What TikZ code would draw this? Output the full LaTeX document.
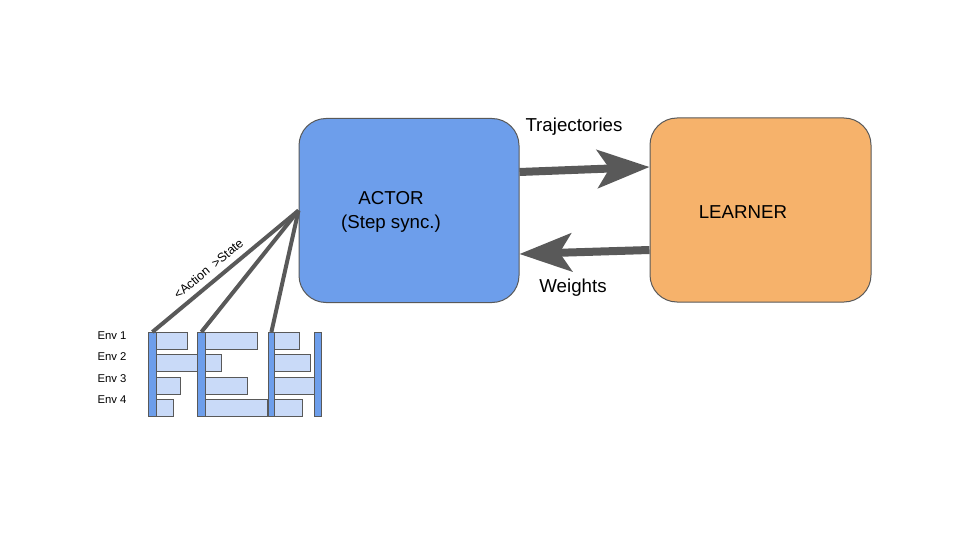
\documentclass[tikz,border=0pt]{standalone}
\usepackage{fontspec}
\setmainfont{Liberation Sans}
\usetikzlibrary{arrows.meta}
\definecolor{actorblue}{HTML}{6D9EEB}
\definecolor{learnerorange}{HTML}{F6B26B}
\definecolor{slotblue}{HTML}{C9DAF8}
\definecolor{linegray}{HTML}{595959}
\begin{document}
\begin{tikzpicture}[x=1pt,y=-1pt,
 box/.style={draw=linegray, line width=1pt, rounded corners=27pt, minimum width=220pt, minimum height=184pt, inner sep=0pt},
 bar/.style={draw=linegray, fill=actorblue, line width=0.8pt, inner sep=0pt, anchor=north west, minimum height=84pt},
 slot/.style={draw=linegray, fill=slotblue, line width=0.8pt},
 big/.style={font=\fontsize{18.7}{24}\selectfont},
 small/.style={font=\fontsize{11.3}{13}\selectfont},
 fat/.style={draw=linegray, line width=8pt, -{Stealth[length=52pt,width=38pt,inset=12pt]}},
 link/.style={draw=linegray, line width=4pt}]
 \useasboundingbox (0,0) rectangle (960,540);
 %
 \node[box, fill=actorblue] (actor) at (409,210.5) {};
 \node[box, fill=learnerorange, minimum width=221pt] (learner) at (760.5,210) {};
 \node[big, align=center] (actortext) at (391,212) {ACTOR\\(Step sync.)};
 \node[big] (learnertext) at (743,212) {LEARNER};
 %
 \draw[fat] ([yshift=38.5pt]actor.east) -- ([yshift=43pt]learner.west);
 \draw[fat] ([yshift=-40pt]learner.west) -- ([yshift=-43.5pt]actor.east);
 \node[big] (trajlabel) at (574,127) {Trajectories};
 \node[big] (weightlabel) at (573,288) {Weights};
 %
 \foreach \i/\y in {1/336,2/357,3/379,4/400}
  \node[small, anchor=west] (env\i) at (94,\y) {Env \i};
 \foreach \y/\a/\b/\c in {332/187/257/299, 354.5/197/221/310, 377/180/247/314, 399.5/173/267/302} {
  \draw[slot] (156,\y) rectangle (\a,\y+17);
  \draw[slot] (205,\y) rectangle (\b,\y+17);
  \draw[slot] (274,\y) rectangle (\c,\y+17);
 }
 \node[bar, minimum width=8pt] (bar1) at (148,332) {};
 \node[bar, minimum width=8pt] (bar2) at (197,332) {};
 \node[bar, minimum width=6pt] (bar3) at (268,332) {};
 \node[bar, minimum width=7pt] (bar4) at (314,332) {};
 %
 \draw[link] (bar1.north) -- node[sloped, above=3pt, pos=0.44, font=\fontsize{12.5}{14}\selectfont] (actionlabel) {<Action\ \ >State} (actor.west);
 \draw[link] (bar2.north) -- (actor.west);
 \draw[link] (bar3.north) -- (actor.west);
\end{tikzpicture}
\end{document}
